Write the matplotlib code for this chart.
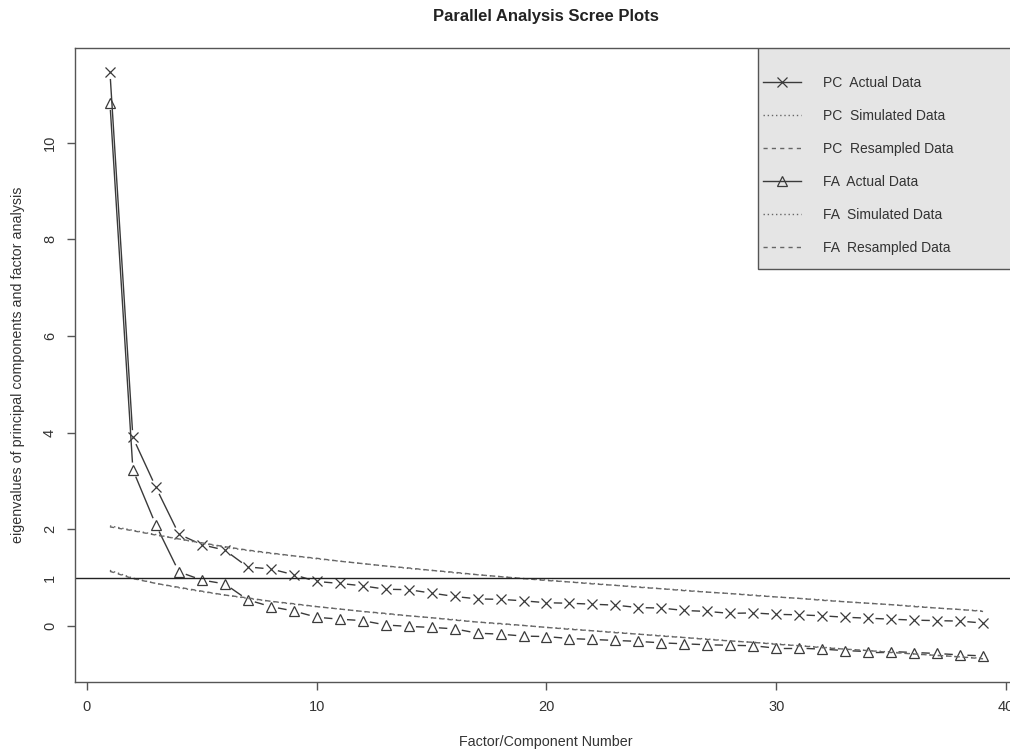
import numpy as np
import matplotlib
matplotlib.use('Agg')
import matplotlib.pyplot as plt
from matplotlib.lines import Line2D
from matplotlib.patches import Rectangle

plt.rcParams['font.family'] = ['Liberation Sans', 'DejaVu Sans']

factors = np.arange(1, 40)

pc_actual = [11.47, 3.90, 2.87, 1.90, 1.68, 1.57, 1.22, 1.18, 1.06, 0.92,
             0.88, 0.83, 0.76, 0.75, 0.68, 0.61, 0.56, 0.55, 0.52, 0.48,
             0.47, 0.45, 0.43, 0.38, 0.37, 0.32, 0.30, 0.26, 0.27, 0.24,
             0.23, 0.21, 0.18, 0.16, 0.14, 0.12, 0.11, 0.10, 0.06]
pc_sim = [2.07, 1.98, 1.89, 1.80, 1.71, 1.63, 1.56, 1.50, 1.45, 1.39,
          1.34, 1.29, 1.24, 1.19, 1.15, 1.10, 1.06, 1.02, 0.98, 0.95,
          0.91, 0.88, 0.84, 0.81, 0.77, 0.74, 0.70, 0.67, 0.64, 0.60,
          0.57, 0.54, 0.50, 0.47, 0.44, 0.41, 0.37, 0.34, 0.31]
pc_resamp = [2.05, 1.97, 1.88, 1.80, 1.72, 1.64, 1.57, 1.51, 1.45, 1.40,
             1.34, 1.29, 1.24, 1.20, 1.15, 1.11, 1.06, 1.02, 0.98, 0.94,
             0.91, 0.87, 0.84, 0.80, 0.77, 0.73, 0.70, 0.67, 0.63, 0.60,
             0.57, 0.53, 0.50, 0.47, 0.44, 0.40, 0.37, 0.34, 0.30]
fa_actual = [10.83, 3.23, 2.09, 1.12, 0.95, 0.87, 0.54, 0.40, 0.31, 0.18,
             0.14, 0.11, 0.02, -0.01, -0.03, -0.06, -0.15, -0.17, -0.21, -0.22,
             -0.26, -0.28, -0.30, -0.32, -0.35, -0.37, -0.39, -0.40, -0.41, -0.46,
             -0.46, -0.48, -0.51, -0.53, -0.53, -0.55, -0.57, -0.60, -0.62]
fa_sim = [1.15, 0.99, 0.88, 0.79, 0.71, 0.64, 0.57, 0.51, 0.45, 0.40,
          0.35, 0.30, 0.25, 0.21, 0.17, 0.13, 0.08, 0.04, 0.01, -0.03,
          -0.06, -0.10, -0.13, -0.17, -0.20, -0.24, -0.27, -0.31, -0.34, -0.37,
          -0.41, -0.44, -0.48, -0.51, -0.54, -0.58, -0.61, -0.64, -0.67]
fa_resamp = [1.13, 0.98, 0.88, 0.80, 0.72, 0.64, 0.58, 0.51, 0.46, 0.40,
             0.35, 0.30, 0.26, 0.21, 0.17, 0.12, 0.08, 0.05, 0.01, -0.03,
             -0.07, -0.10, -0.14, -0.17, -0.21, -0.24, -0.28, -0.31, -0.34, -0.38,
             -0.41, -0.45, -0.48, -0.51, -0.55, -0.58, -0.61, -0.64, -0.68]

legend_labels = ['PC  Actual Data', 'PC  Simulated Data', 'PC  Resampled Data',
                 'FA  Actual Data', 'FA  Simulated Data', 'FA  Resampled Data']

TXT = '#333333'
DARK = '#3a3a3a'
GREY = '#666666'

W, H = 1010, 752
fig = plt.figure(figsize=(W / 100, H / 100), dpi=100)
# plot region runs past the right edge, like the cropped original
ax = fig.add_axes([75 / W, 70 / H, 943 / W, 634 / H])
ax.set_xlim(-0.52, 40.52)
ax.set_ylim(-1.16, 11.96)


def gapped(x, y, gap=8, **kw):
    # R type="b": segments stop short of each point
    pts = ax.transData.transform(np.column_stack([x, y]))
    inv = ax.transData.inverted()
    for p0, p1 in zip(pts[:-1], pts[1:]):
        d = p1 - p0
        L = np.hypot(*d)
        if L <= 2 * gap:
            continue
        u = d / L
        seg = inv.transform(np.array([p0 + u * gap, p1 - u * gap]))
        ax.plot(seg[:, 0], seg[:, 1], color=DARK, lw=1.0, **kw)


gapped(factors, pc_actual)
ax.plot(factors, pc_actual, ls='none', marker='x', ms=6.5, mew=0.9, color=DARK)
gapped(factors, fa_actual)
ax.plot(factors, fa_actual, ls='none', marker='^', ms=7.5, mew=0.9,
        mfc='none', color=DARK)

ax.plot(factors, pc_sim, color=GREY, lw=1.0, ls=(0, (1, 2)))
ax.plot(factors, pc_resamp, color=GREY, lw=1.0, ls=(0, (3, 3)))
ax.plot(factors, fa_sim, color=GREY, lw=1.0, ls=(0, (1, 2)))
ax.plot(factors, fa_resamp, color=GREY, lw=1.0, ls=(0, (3, 3)))

ax.axhline(1, color='#222222', lw=1.0)

for s in ax.spines.values():
    s.set_color('#555555')
    s.set_linewidth(1.0)

ax.set_xticks([0, 10, 20, 30, 40])
ax.set_yticks([0, 2, 4, 6, 8, 10])
ax.tick_params(direction='out', length=6, width=1.0, color='#555555',
               labelcolor=TXT, labelsize=10.5, pad=7)
ax.tick_params(axis='y', labelrotation=90)
for lab in ax.get_yticklabels():
    lab.set_va('center')
ax.annotate('1', xy=(0, 1), xycoords=ax.get_yaxis_transform(),
            xytext=(-13, 0), textcoords='offset points',
            ha='right', va='center', rotation=90, fontsize=10.5, color=TXT)

# legend
ax.add_patch(Rectangle((0.7243, 0.6514), 1 - 0.7243, 1 - 0.6514,
                       transform=ax.transAxes, facecolor='#e5e5e5',
                       edgecolor='#555555', lw=1.0, zorder=3))
handles = [
    Line2D([], [], color=DARK, lw=1.0, marker='x', ms=6.5, mew=0.9),
    Line2D([], [], color=GREY, lw=1.0, ls=(0, (1, 2))),
    Line2D([], [], color=GREY, lw=1.0, ls=(0, (3, 3))),
    Line2D([], [], color=DARK, lw=1.0, marker='^', ms=7.5, mew=0.9, mfc='none'),
    Line2D([], [], color=GREY, lw=1.0, ls=(0, (1, 2))),
    Line2D([], [], color=GREY, lw=1.0, ls=(0, (3, 3))),
]
leg = ax.legend(handles, legend_labels, loc='center left',
                bbox_to_anchor=(0.7296, 0.8147), frameon=False,
                borderpad=0, borderaxespad=0, handlelength=2.7,
                handletextpad=1.65, labelspacing=1.36, fontsize=10,
                labelcolor=TXT)
leg.set_zorder(4)

fig.text(546 / W, 1 - 16 / H, 'Parallel Analysis Scree Plots', ha='center',
         va='center', fontsize=12, fontweight='bold', color='#222222')
fig.text(546 / W, 1 - 742 / H, 'Factor/Component Number', ha='center',
         va='center', fontsize=10.3, color=TXT)
fig.text(18 / W, 1 - 365 / H,
         'eigenvalues of principal components and factor analysis',
         ha='center', va='center', rotation=90, fontsize=10.3, color=TXT)

fig.savefig('out.png', dpi=100)
